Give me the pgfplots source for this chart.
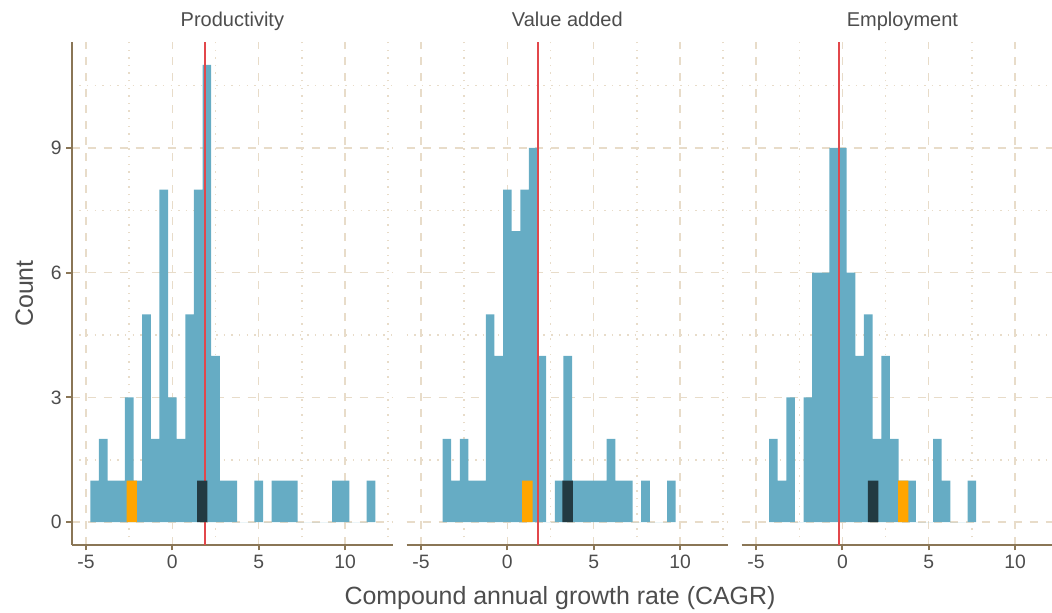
\documentclass[border=0pt]{standalone}
\usepackage{fontspec}
\setmainfont{Liberation Sans}
\usepackage{pgfplots}
\usepackage{pgfplotstable}
\pgfplotsset{compat=1.18}

\definecolor{barblue}{HTML}{66ACC4}
\definecolor{darkbar}{HTML}{223A42}
\definecolor{hiorange}{HTML}{FFA500}
\definecolor{refred}{HTML}{E2474B}
\definecolor{axisbrown}{HTML}{8A7656}
\definecolor{gridbeige}{HTML}{E8DCC9}
\definecolor{labelgray}{HTML}{4D4D4D}

% histogram counts: left bin edge, count (bin width 0.5)
\pgfplotstableread{
x    n
-4.75 1
-4.25 2
-3.75 1
-3.25 1
-2.75 3
-2.25 1
-1.75 5
-1.25 2
-0.75 8
-0.25 3
0.25 2
0.75 5
1.25 8
1.75 11
2.25 4
2.75 1
3.25 1
3.75 0
4.25 0
4.75 1
5.25 0
5.75 1
6.25 1
6.75 1
7.25 0
7.75 0
8.25 0
8.75 0
9.25 1
9.75 1
10.25 0
10.75 0
11.25 1
11.75 0
}\productivity

\pgfplotstableread{
x    n
-3.75 2
-3.25 1
-2.75 2
-2.25 1
-1.75 1
-1.25 5
-0.75 4
-0.25 8
0.25 7
0.75 8
1.25 9
1.75 4
2.25 0
2.75 1
3.25 4
3.75 1
4.25 1
4.75 1
5.25 1
5.75 2
6.25 1
6.75 1
7.25 0
7.75 1
8.25 0
8.75 0
9.25 1
9.75 0
}\valueadded

\pgfplotstableread{
x    n
-4.25 2
-3.75 1
-3.25 3
-2.75 0
-2.25 3
-1.75 6
-1.25 6
-0.75 9
-0.25 9
0.25 6
0.75 4
1.25 5
1.75 2
2.25 4
2.75 2
3.25 1
3.75 1
4.25 0
4.75 0
5.25 2
5.75 1
6.25 0
6.75 0
7.25 1
7.75 0
}\employment

\pgfplotsset{
  facet/.style={
    scale only axis, width=241pt, height=377.25pt,
    anchor=south west,
    xmin=-5.83, xmax=12.78, ymin=-0.55, ymax=11.55,
    axis x line*=bottom, axis y line*=left,
    axis line style={axisbrown, line width=1.5pt},
    xtick={-5,0,5,10}, xticklabels={-5,0,5,10},
    ytick={0,3,6,9}, yticklabels={0,3,6,9},
    minor xtick={-2.5,2.5,7.5,12.5},
    minor ytick={1.5,4.5,7.5,10.5},
    grid=both,
    major grid style={gridbeige, line width=1.1pt, dash pattern=on 6pt off 6pt},
    minor grid style={gridbeige, line width=1.1pt, dash pattern=on 1.1pt off 4.6pt},
    tick align=outside, major tick length=4pt, minor tick length=0pt,
    tick style={axisbrown, line width=1.5pt},
    tick label style={font=\fontsize{14.5}{17}\selectfont, text=labelgray},
    title style={font=\fontsize{15}{18}\selectfont, text=labelgray,
      at={(0.5,1)}, anchor=base, yshift=5.5pt},
  },
  noyaxis/.style={
    y axis line style={draw=none},
    yticklabels={},
    every major y tick/.append style={draw=none},
  },
  hist/.style={const plot mark left, fill=barblue, draw=none},
}

\begin{document}
\begin{tikzpicture}
\useasboundingbox (0,0) rectangle (789pt,459.75pt);

% Productivity
\begin{axis}[facet, at={(53.78pt,51pt)}, title={Productivity}]
  \addplot[hist] table[x=x, y=n] {\productivity} \closedcycle;
  \addplot[refred, line width=1.5pt] coordinates {(1.876,-0.55) (1.876,11.55)};
  \addplot[fill=hiorange, draw=none] coordinates {(-2.65,0) (-2.65,1) (-2.05,1) (-2.05,0)} \closedcycle;
  \addplot[fill=darkbar, draw=none] coordinates {(1.43,0) (1.43,1) (2.03,1) (2.03,0)} \closedcycle;
\end{axis}

% Value added
\begin{axis}[facet, noyaxis, at={(305pt,51pt)}, title={Value added}]
  \addplot[hist] table[x=x, y=n] {\valueadded} \closedcycle;
  \addplot[refred, line width=1.5pt] coordinates {(1.79,-0.55) (1.79,11.55)};
  \addplot[fill=hiorange, draw=none] coordinates {(0.86,0) (0.86,1) (1.46,1) (1.46,0)} \closedcycle;
  \addplot[fill=darkbar, draw=none] coordinates {(3.19,0) (3.19,1) (3.79,1) (3.79,0)} \closedcycle;
\end{axis}

% Employment
\begin{axis}[facet, noyaxis, at={(556.3pt,51pt)}, title={Employment}]
  \addplot[hist] table[x=x, y=n] {\employment} \closedcycle;
  \addplot[refred, line width=1.5pt] coordinates {(-0.19,-0.55) (-0.19,11.55)};
  \addplot[fill=darkbar, draw=none] coordinates {(1.48,0) (1.48,1) (2.08,1) (2.08,0)} \closedcycle;
  \addplot[fill=hiorange, draw=none] coordinates {(3.22,0) (3.22,1) (3.82,1) (3.82,0)} \closedcycle;
\end{axis}

\node[anchor=base, text=labelgray, font=\fontsize{18.7}{22}\selectfont] at (420pt,6pt) {Compound annual growth rate (CAGR)};
\node[anchor=base, rotate=90, text=labelgray, font=\fontsize{18.7}{22}\selectfont] at (24.75pt,239.6pt) {Count};
\end{tikzpicture}
\end{document}
